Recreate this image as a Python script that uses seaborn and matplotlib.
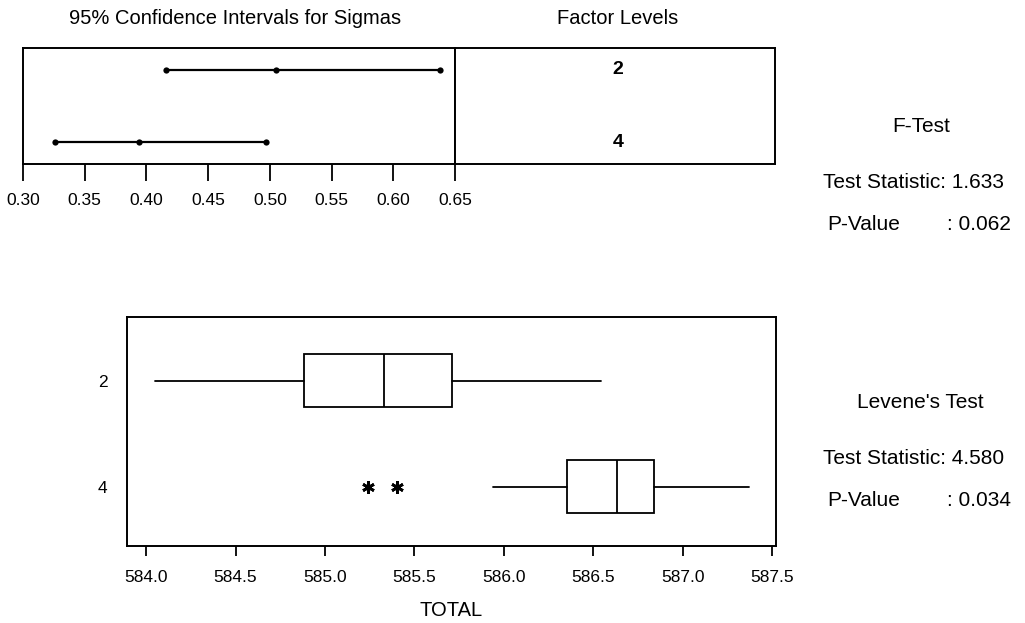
import numpy as np
import pandas as pd
import matplotlib
matplotlib.use("Agg")
import matplotlib.pyplot as plt
import seaborn as sns

# 95% confidence intervals for sigma, per factor level
levels = ["2", "4"]
sigma_lower = [0.416, 0.326]
sigma_center = [0.505, 0.394]
sigma_upper = [0.638, 0.497]
ci_ticks = [0.30, 0.35, 0.40, 0.45, 0.50, 0.55, 0.60, 0.65]

# Box plot summaries of TOTAL, per factor level
whisker_low = [584.05, 585.94]
q1 = [584.88, 586.35]
median = [585.33, 586.63]
q3 = [585.71, 586.84]
whisker_high = [586.54, 587.37]
outliers = [[], [585.24, 585.40]]
total_ticks = [584.0, 584.5, 585.0, 585.5, 586.0, 586.5, 587.0, 587.5]

# Test results
f_stat, f_pvalue = 1.633, 0.062
levene_stat, levene_pvalue = 4.580, 0.034

sns.set_theme(style="white")
plt.rcParams["font.family"] = ["Liberation Sans", "DejaVu Sans"]
plt.rcParams["axes.edgecolor"] = "black"
plt.rcParams["axes.labelcolor"] = "black"
plt.rcParams["axes.linewidth"] = 1.4
plt.rcParams["text.color"] = "black"
plt.rcParams["xtick.color"] = "black"
plt.rcParams["ytick.color"] = "black"

W, H = 1025, 623
fig = plt.figure(figsize=(W / 100, H / 100), dpi=100)
fig.patch.set_facecolor("white")


def frac_box(x0, y0, x1, y1):
    return [x0 / W, 1 - y1 / H, (x1 - x0) / W, (y1 - y0) / H]


pos = np.arange(len(levels))

# ---- confidence intervals panel ----
ax_ci = fig.add_axes(frac_box(23, 48.3, 455, 164))
ci_df = pd.DataFrame({
    "level": np.repeat(levels, 3),
    "pos": np.repeat(pos, 3),
    "sigma": np.ravel(np.column_stack([sigma_lower, sigma_center, sigma_upper])),
})
sns.lineplot(data=ci_df, x="sigma", y="pos", units="level", estimator=None,
             sort=False, color="black", lw=1.6, marker="o", markersize=4.5,
             markeredgewidth=0, legend=False, ax=ax_ci)
ax_ci.set_xlim(0.30, 0.65)
ax_ci.set_ylim(1.305, -0.30)
ax_ci.set_xticks(ci_ticks)
ax_ci.set_xticklabels([f"{t:.2f}" for t in ci_ticks])
ax_ci.set_yticks([])
ax_ci.set_xlabel("")
ax_ci.set_ylabel("")
ax_ci.tick_params(axis="x", direction="out", length=12, width=1.3,
                  pad=9, labelsize=12.5, bottom=True)

# ---- factor level labels panel ----
ax_lv = fig.add_axes(frac_box(455, 48.3, 775, 164))
ax_lv.set_xlim(0, 1)
ax_lv.set_ylim(1.305, -0.30)
ax_lv.set_xticks([])
ax_lv.set_yticks([])
for p, lab in zip(pos, levels):
    ax_lv.text(0.51, p, lab, ha="center", va="center", fontsize=14,
               fontweight="bold")

fig.text(235.5 / W, 1 - 18 / H, "95% Confidence Intervals for Sigmas",
         ha="center", va="center", fontsize=14.5)
fig.text(618 / W, 1 - 18 / H, "Factor Levels", ha="center", va="center",
         fontsize=14.5)

# ---- box plot panel ----
ax_bx = fig.add_axes(frac_box(126.7, 317.3, 776, 546))
stats = []
for i, lab in enumerate(levels):
    stats.append({
        "label": lab,
        "whislo": whisker_low[i],
        "q1": q1[i],
        "med": median[i],
        "q3": q3[i],
        "whishi": whisker_high[i],
        "fliers": np.array(outliers[i]),
    })
ax_bx.bxp(stats, positions=pos, widths=0.5, orientation="horizontal",
          showcaps=False, patch_artist=True,
          boxprops=dict(facecolor="white", edgecolor="black", linewidth=1.3),
          whiskerprops=dict(color="black", linewidth=1.3),
          medianprops=dict(color="black", linewidth=1.3),
          flierprops=dict(marker=(6, 2, 0), markersize=9,
                          markeredgecolor="black", markerfacecolor="black",
                          markeredgewidth=2.0, linestyle="none"))
ax_bx.set_xlim(583.892, 587.52)
ax_bx.set_ylim(1.557, -0.595)
ax_bx.set_xticks(total_ticks)
ax_bx.set_xticklabels([f"{t:.1f}" for t in total_ticks])
ax_bx.set_yticks(pos)
ax_bx.set_yticklabels(levels)
ax_bx.tick_params(axis="x", direction="out", length=7, width=1.3, pad=10,
                  labelsize=12.5, bottom=True)
ax_bx.tick_params(axis="y", length=0, pad=14, labelsize=12.5)
ax_bx.set_xlabel("TOTAL", fontsize=14.5, labelpad=12)
ax_bx.set_ylabel("")
ax_bx.grid(False)

# ---- test results ----
fs = 15
fig.text(921 / W, 1 - 127 / H, "F-Test", ha="center", va="center", fontsize=fs)
fig.text(823 / W, 1 - 183 / H, f"Test Statistic: {f_stat:.3f}", ha="left",
         va="center", fontsize=fs)
fig.text(827 / W, 1 - 225 / H, "P-Value", ha="left", va="center", fontsize=fs)
fig.text(947 / W, 1 - 225 / H, f": {f_pvalue:.3f}", ha="left", va="center",
         fontsize=fs)

fig.text(920 / W, 1 - 403 / H, "Levene's Test", ha="center", va="center",
         fontsize=fs)
fig.text(823 / W, 1 - 458 / H, f"Test Statistic: {levene_stat:.3f}",
         ha="left", va="center", fontsize=fs)
fig.text(827 / W, 1 - 500 / H, "P-Value", ha="left", va="center", fontsize=fs)
fig.text(947 / W, 1 - 500 / H, f": {levene_pvalue:.3f}", ha="left",
         va="center", fontsize=fs)

fig.savefig("out.png", dpi=100, facecolor="white")
